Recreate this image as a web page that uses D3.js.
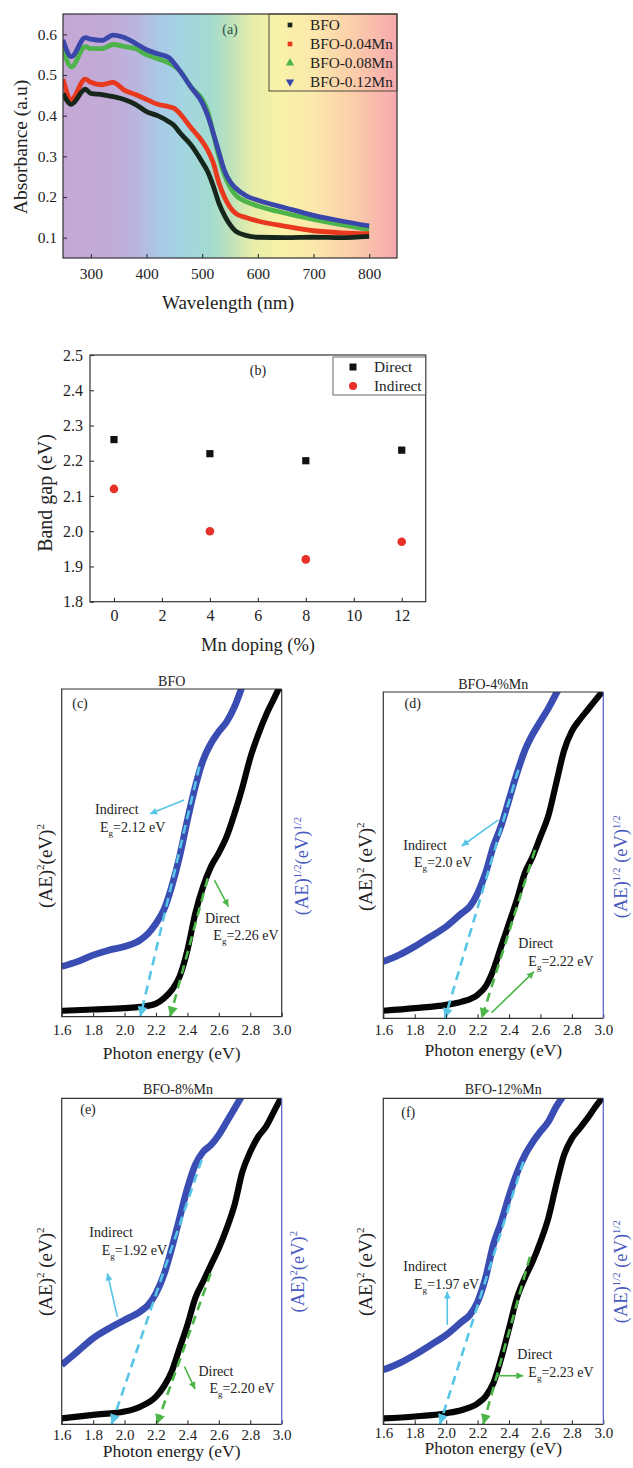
<!DOCTYPE html>
<html><head><meta charset="utf-8">
<script src="https://cdn.jsdelivr.net/npm/d3@7"></script>
<style>body{margin:0;background:#fff;} svg text{font-family:"Liberation Serif","Times New Roman",serif !important;}</style>
</head><body><script>
// ---------------- DATA ----------------
// (a) UV-vis absorbance
const wavelength = [250,265,290,300,320,340,360,380,400,420,440,450,460,480,500,510,520,530,540,550,560,580,600,650,700,750,800];
const absBFO   = [0.455,0.428,0.465,0.455,0.452,0.447,0.440,0.428,0.410,0.400,0.385,0.375,0.358,0.328,0.286,0.262,0.227,0.185,0.155,0.132,0.116,0.105,0.101,0.100,0.101,0.100,0.103];
const absMn04  = [0.490,0.440,0.490,0.482,0.476,0.482,0.463,0.452,0.440,0.428,0.422,0.418,0.405,0.370,0.337,0.315,0.284,0.235,0.200,0.175,0.160,0.149,0.141,0.128,0.117,0.112,0.110];
const absMn08  = [0.565,0.520,0.570,0.565,0.565,0.575,0.570,0.565,0.550,0.540,0.530,0.522,0.510,0.470,0.440,0.410,0.355,0.300,0.255,0.225,0.205,0.188,0.178,0.160,0.145,0.132,0.120];
const absMn12  = [0.586,0.545,0.592,0.588,0.585,0.598,0.592,0.578,0.562,0.552,0.543,0.528,0.510,0.470,0.432,0.400,0.357,0.310,0.265,0.238,0.222,0.202,0.192,0.173,0.155,0.141,0.129];
const seriesNamesA = ["BFO","BFO-0.04Mn","BFO-0.08Mn","BFO-0.12Mn"];
const xTicksA = [300,400,500,600,700,800];
const yTicksA = [0.1,0.2,0.3,0.4,0.5,0.6];

// (b) band gap vs Mn doping
const mnDoping = [0,4,8,12];
const gapDirect = [2.26,2.22,2.20,2.23];
const gapIndirect = [2.12,2.00,1.92,1.97];
const xTicksB = [0,2,4,6,8,10,12];
const yTicksB = [1.8,1.9,2.0,2.1,2.2,2.3,2.4,2.5];

// (c)-(f) Tauc plots (relative units, 0-100 of the panel height)
const energyBlack = [1.6,1.8,2.0,2.1,2.2,2.25,2.3,2.35,2.4,2.45,2.5,2.55,2.6,2.65,2.7,2.75,2.8,2.85,2.9,2.95,3.0];
const blackC = [1.8,2.2,2.6,3.0,4.0,5.6,8.1,12.2,20.3,31.5,39.7,45.8,50,55,62,70,79,86,92,97,102];
const blackD = [2.3,3.1,4.1,5.1,7.2,9.7,14.8,22,29.1,36.3,44.4,49.5,55.7,62,72,82,88,91.5,94.5,97.5,100.5];
const blackE = [1.8,2.9,3.9,5.4,8.5,11.6,16.2,23.3,30.5,38.7,43.8,48.9,54,60.1,67.3,77.5,83.6,88.2,91.3,95.9,100.5];
const blackF = [1.8,2.4,3.4,4.4,6.4,8.5,12.6,20.2,29.4,38.7,44.8,49.9,56,63.2,73.4,82.6,87.7,90.8,93.9,97.4,100.5];
const energyBlue = [1.6,1.7,1.8,1.9,2.0,2.1,2.15,2.2,2.25,2.3,2.35,2.4,2.45,2.5,2.55,2.6,2.65,2.7,2.75];
const blueC = [15.3,16.8,18.8,20.3,21.4,23.4,25.4,28.5,32.6,39.7,48.8,60,70.2,78.3,83.4,87,90,94.6,101];
const blueD = [17.4,19.4,22,25,28.1,32.2,34.2,38.3,44.4,52.6,59,67,75,82,87,91,95,99.5,104];
const blueE = [18.2,22.3,26.4,29.4,32,34.6,36.6,40.2,45.8,54,63.2,72.4,79.6,83.6,85.7,88.8,92.8,96.9,101];
const blueF = [16.7,18.7,21.3,24.3,27.4,31.5,33.5,37.6,44.8,55,62,70,77,82.5,86.5,89.8,92.8,97.4,101];
// tangent fits: [E bottom, value bottom, E top, value top]
const fitIndirect = [[2.10,0,2.476,76.3],[1.992,0,2.459,76.1],[1.918,0,2.491,81.1],[1.96,0,2.491,80.6]];
const fitDirect   = [[2.29,0,2.529,42.2],[2.226,0,2.565,51.6],[2.205,0,2.548,46.3],[2.236,0,2.533,51.4]];
const egIndirectText = ["2.12","2.0","1.92","1.97"];
const egDirectText = ["2.26","2.22","2.20","2.23"];
const panelTitles = ["BFO","BFO-4%Mn","BFO-8%Mn","BFO-12%Mn"];
const panelLetters = ["(c)","(d)","(e)","(f)"];
const xTicksT = [1.6,1.8,2.0,2.2,2.4,2.6,2.8,3.0];

// ---------------- DRAW ----------------
const FONT = "'Liberation Serif', 'Times New Roman', serif";
const svg = d3.select("body").append("svg").attr("width",633).attr("height",1468).attr("font-family",FONT);
const defs = svg.append("defs");
function marker(id,color,w,h){
  defs.append("marker").attr("id",id).attr("viewBox","0 0 10 10")
    .attr("refX",10).attr("refY",5).attr("markerWidth",w).attr("markerHeight",h)
    .attr("markerUnits","userSpaceOnUse").attr("orient","auto")
    .append("path").attr("d","M0,0L10,5L0,10Z").attr("fill",color);
}
const CYAN = "#57c5e6", GREEN = "#4cb648", BLUE = "#3a4db3";
marker("headCyan",CYAN,13,10);
marker("headGreen",GREEN,13,10);
marker("arrCyan",CYAN,8,7);
marker("arrGreen",GREEN,8,7);

function styleAxis(g,fs){
  g.attr("font-family",FONT);
  g.select(".domain").remove();
  g.selectAll(".tick line").attr("stroke","#333").attr("stroke-width",1.1);
  g.selectAll(".tick text").attr("font-size",fs).attr("fill","#222");
}
function frame(g,l,t,r,b,col){
  g.append("rect").attr("x",l).attr("y",t).attr("width",r-l).attr("height",b-t)
   .attr("fill","none").attr("stroke",col||"#333").attr("stroke-width",1.2);
}

// ===== Panel (a) =====
{
  const L=63,R=397,T=14,B=258;
  const x = d3.scaleLinear().domain([250,850]).range([L,R]);
  const y = d3.scaleLinear().domain([0.05,0.65]).range([B,T]);
  const gA = svg.append("g");
  const grad = defs.append("linearGradient").attr("id","spec").attr("x1",0).attr("x2",1).attr("y1",0).attr("y2",0);
  const stops = [[250,"#c5a7d5"],[340,"#c2abd8"],[385,"#b8b7e0"],[425,"#a9cae7"],[465,"#a3d5e2"],[515,"#a3dbd0"],[553,"#bfe3b9"],[590,"#e8eda9"],[640,"#f8f2a8"],[700,"#fbe8ac"],[765,"#fbd0aa"],[820,"#f8b7ac"],[850,"#f6a9ae"]];
  stops.forEach(s=>grad.append("stop").attr("offset",(s[0]-250)/600).attr("stop-color",s[1]));
  gA.append("rect").attr("x",L).attr("y",T).attr("width",R-L).attr("height",B-T).attr("fill","url(#spec)");
  defs.append("clipPath").attr("id","clipA").append("rect").attr("x",L).attr("y",T).attr("width",R-L).attr("height",B-T);
  const series = [absBFO,absMn04,absMn08,absMn12];
  const colors = ["#17261a","#e8391f","#4db34b","#3a47aa"];
  const line = d3.line().x((d,i)=>x(wavelength[i])).y(d=>y(d)).curve(d3.curveMonotoneX);
  const lg = gA.append("g").attr("clip-path","url(#clipA)");
  [2,3,1,0].forEach(k=>{
    lg.append("path").datum(series[k]).attr("d",line).attr("fill","none")
      .attr("stroke",colors[k]).attr("stroke-width",4.8).attr("stroke-linejoin","round");
  });
  gA.append("g").attr("transform",`translate(0,${B})`)
    .call(d3.axisBottom(x).tickValues(xTicksA).tickSize(-4).tickPadding(10).tickFormat(d3.format("d")))
    .call(g=>styleAxis(g,15.5));
  gA.append("g").attr("transform",`translate(${L},0)`)
    .call(d3.axisLeft(y).tickValues(yTicksA).tickSize(-4).tickPadding(6).tickFormat(d3.format(".1f")))
    .call(g=>styleAxis(g,15.5));
  frame(gA,L,T,R,B,"#333");
  // legend
  gA.append("rect").attr("x",269).attr("y",T).attr("width",R-269).attr("height",77).attr("fill","none").attr("stroke","#4a4a3a").attr("stroke-width",1);
  const ly = [25,44,63,82];
  const sym = [d3.symbolSquare,d3.symbolSquare,d3.symbolTriangle,d3.symbolTriangle];
  seriesNamesA.forEach((n,i)=>{
    gA.append("path").attr("d",d3.symbol().type(sym[i]).size(i<2?22:30)())
      .attr("transform",`translate(290,${ly[i]})${i===3?" rotate(180)":""}`).attr("fill",colors[i]);
    gA.append("text").attr("x",310).attr("y",ly[i]).attr("dy","0.35em").attr("font-size",15.3).attr("fill","#222").text(n);
  });
  gA.append("text").attr("x",230).attr("y",29).attr("dy","0.35em").attr("text-anchor","middle").attr("font-size",14).attr("fill","#2e4f4f").text("(a)");
  gA.append("text").attr("x",228).attr("y",302).attr("dy","0.35em").attr("text-anchor","middle").attr("font-size",19).attr("fill","#222").text("Wavelength (nm)");
  gA.append("text").attr("transform","translate(20,147) rotate(-90)").attr("dy","0.35em").attr("text-anchor","middle").attr("font-size",19.5).attr("fill","#222").text("Absorbance (a.u)");
}

// ===== Panel (b) =====
{
  const L=90,R=425.7,T=355,B=601.7;
  const x = d3.scaleLinear().domain([-1,13]).range([L,R]);
  const y = d3.scaleLinear().domain([1.8,2.5]).range([B,T]);
  const gB = svg.append("g");
  gB.append("g").attr("transform",`translate(0,${B})`)
    .call(d3.axisBottom(x).tickValues(xTicksB).tickSize(-4).tickPadding(7.5).tickFormat(d3.format("d")))
    .call(g=>styleAxis(g,16));
  gB.append("g").attr("transform",`translate(${L},0)`)
    .call(d3.axisLeft(y).tickValues(yTicksB).tickSize(-4).tickPadding(7).tickFormat(d3.format(".1f")))
    .call(g=>styleAxis(g,16));
  frame(gB,L,T,R,B,"#333");
  gB.selectAll(".sq").data(mnDoping).enter().append("rect")
    .attr("x",(d)=>x(d)-3.6).attr("y",(d,i)=>y(gapDirect[i])-3.6).attr("width",7.2).attr("height",7.2).attr("fill","#111");
  gB.selectAll(".ci").data(mnDoping).enter().append("circle")
    .attr("cx",d=>x(d)).attr("cy",(d,i)=>y(gapIndirect[i])).attr("r",4.3).attr("fill","#e8302a");
  gB.append("rect").attr("x",333).attr("y",357).attr("width",R-333).attr("height",38).attr("fill","none").attr("stroke","#666").attr("stroke-width",1);
  gB.append("rect").attr("x",353-3.5).attr("y",367-3.5).attr("width",7).attr("height",7).attr("fill","#111");
  gB.append("circle").attr("cx",353).attr("cy",386).attr("r",4).attr("fill","#e8302a");
  gB.append("text").attr("x",374).attr("y",367).attr("dy","0.35em").attr("font-size",15.3).attr("fill","#222").text("Direct");
  gB.append("text").attr("x",374).attr("y",386).attr("dy","0.35em").attr("font-size",15.3).attr("fill","#222").text("Indirect");
  gB.append("text").attr("x",258).attr("y",370).attr("dy","0.35em").attr("text-anchor","middle").attr("font-size",14).attr("fill","#222").text("(b)");
  gB.append("text").attr("x",258).attr("y",645).attr("dy","0.35em").attr("text-anchor","middle").attr("font-size",18.5).attr("fill","#222").text("Mn doping (%)");
  gB.append("text").attr("transform","translate(45,493) rotate(-90)").attr("dy","0.35em").attr("text-anchor","middle").attr("font-size",20).attr("fill","#222").text("Band gap (eV)");
}

// ===== Panels (c)-(f) =====
function supLabel(g,x,y,parts,color,fs){
  const t = g.append("text").attr("transform",`translate(${x},${y}) rotate(-90)`).attr("dy","0.35em")
    .attr("text-anchor","middle").attr("font-size",fs).attr("fill",color);
  let up=false;
  parts.forEach(p=>{
    const sup = p[1];
    const ts = t.append("tspan").text(p[0]);
    if(sup){ ts.attr("font-size",fs*0.58).attr("dy",-fs*0.38); up=true; }
    else if(up){ ts.attr("dy",fs*0.38); up=false; }
  });
}
const SQ = [["(AE)",0],["2",1],["(eV)",0],["2",1]];
const SQs = [["(AE)",0],["2",1],[" (eV)",0],["2",1]];
const HALF = [["(AE)",0],["1/2",1],["(eV)",0],["1/2",1]];
const HALFs = [["(AE)",0],["1/2",1],[" (eV)",0],["1/2",1]];

const panels = [
  {L:61.7,T:689,R:281.7,B:1016.7, black:blackC, blue:blueC, rightCol:"#333", rightLab:HALF, leftLab:SQ,
   title:[171.7,680.7], letter:[80,702.7], leftPos:[45,866], rightPos:[301.7,866], xTitleY:1053, pad:7.3,
   ann:{ind:[1.812,63.4], indEg:[1.844,57.8], indArr:[2.379,66.1,2.162,61.9], dir:[2.512,30.2], dirEg:[2.565,24.9], dirArr:[2.572,41.7,2.661,33.6]}},
  {L:383.3,T:692,R:603.3,B:1018.3, black:blackD, blue:blueD, rightCol:"#4f5fc2", rightLab:HALFs, leftLab:SQs,
   title:[493.3,684], letter:[412.7,703.3], leftPos:[365,866.7], rightPos:[621,866.7], xTitleY:1050, pad:6.3,
   ann:{ind:[1.727,53.1], indEg:[1.795,47.8], indArr:[2.332,60.8,2.099,52.8], dir:[2.459,23.0], dirEg:[2.523,17.6], dirArr:[2.289,1.7,2.559,14.3]}},
  {L:61.7,T:1098.3,R:281.7,B:1424.3, black:blackE, blue:blueE, rightCol:"#4f5fc2", rightLab:SQ, leftLab:SQs,
   title:[178,1089], letter:[88,1109], leftPos:[45,1271.7], rightPos:[297.7,1271.7], xTitleY:1451, pad:5.3,
   ann:{ind:[1.776,59.1], indEg:[1.855,53.5], indArr:[1.954,33.0,1.891,46.3], dir:[2.47,16.4], dirEg:[2.54,11.0], dirArr:[2.381,17.7,2.449,10.8]}},
  {L:383.3,T:1098.3,R:603.3,B:1424.3, black:blackF, blue:blueF, rightCol:"#4f5fc2", rightLab:HALFs, leftLab:SQs,
   title:[503.3,1089], letter:[408.3,1111.7], leftPos:[365,1271.7], rightPos:[621,1271.7], xTitleY:1448, pad:2.8,
   ann:{ind:[1.727,48.4], indEg:[1.795,42.9], indArr:[2.007,30.5,2.007,40.7], dir:[2.453,21.5], dirEg:[2.523,16.0], dirArr:[2.321,14.9,2.491,14.9]}}
];

panels.forEach((p,k)=>{
  const g = svg.append("g");
  const x = d3.scaleLinear().domain([1.6,3.0]).range([p.L,p.R]);
  const y = d3.scaleLinear().domain([0,100]).range([p.B,p.T]);
  const cid = "clipT"+k;
  defs.append("clipPath").attr("id",cid).append("rect").attr("x",p.L).attr("y",p.T).attr("width",p.R-p.L).attr("height",p.B-p.T);
  const cg = g.append("g").attr("clip-path",`url(#${cid})`);
  const lineBlue = d3.line().x((d,i)=>x(energyBlue[i])).y(d=>y(d)).curve(d3.curveMonotoneX);
  const lineBlack = d3.line().x((d,i)=>x(energyBlack[i])).y(d=>y(d)).curve(d3.curveMonotoneX);
  cg.append("path").datum(p.blue).attr("d",lineBlue).attr("fill","none").attr("stroke",BLUE).attr("stroke-width",6.8);
  cg.append("path").datum(p.black).attr("d",lineBlack).attr("fill","none").attr("stroke","#050505").attr("stroke-width",6.2);
  // tangent fits
  const fi = fitIndirect[k], fd = fitDirect[k];
  g.append("line").attr("x1",x(fi[2])).attr("y1",y(fi[3])).attr("x2",x(fi[0])).attr("y2",y(fi[1]))
    .attr("stroke",CYAN).attr("stroke-width",2.6).attr("stroke-dasharray","9,6").attr("marker-end","url(#headCyan)");
  g.append("line").attr("x1",x(fd[2])).attr("y1",y(fd[3])).attr("x2",x(fd[0])).attr("y2",y(fd[1]))
    .attr("stroke",GREEN).attr("stroke-width",2.6).attr("stroke-dasharray","9,6").attr("marker-end","url(#headGreen)");
  // axes
  g.append("g").attr("transform",`translate(0,${p.B})`)
    .call(d3.axisBottom(x).tickValues(xTicksT).tickSize(-4).tickPadding(p.pad).tickFormat(d3.format(".1f")))
    .call(gg=>styleAxis(gg,15));
  g.append("path").attr("d",`M${p.R},${p.T}L${p.L},${p.T}L${p.L},${p.B}L${p.R},${p.B}`).attr("fill","none").attr("stroke","#333").attr("stroke-width",1.2);
  g.append("line").attr("x1",p.R).attr("x2",p.R).attr("y1",p.T).attr("y2",p.B).attr("stroke",p.rightCol).attr("stroke-width",1.2);
  // annotations
  const a = p.ann;
  g.append("text").attr("x",x(a.ind[0])).attr("y",y(a.ind[1])).attr("dy","0.35em").attr("font-size",14).attr("fill","#222").text("Indirect");
  const t1 = g.append("text").attr("x",x(a.indEg[0])).attr("y",y(a.indEg[1])).attr("dy","0.35em").attr("font-size",14).attr("fill","#222");
  t1.append("tspan").text("E"); t1.append("tspan").attr("font-size",9).attr("dy",4).text("g");
  t1.append("tspan").attr("dy",-4).text("=" + egIndirectText[k] + " eV");
  g.append("line").attr("x1",x(a.indArr[0])).attr("y1",y(a.indArr[1])).attr("x2",x(a.indArr[2])).attr("y2",y(a.indArr[3]))
    .attr("stroke",CYAN).attr("stroke-width",1.6).attr("marker-end","url(#arrCyan)");
  g.append("text").attr("x",x(a.dir[0])).attr("y",y(a.dir[1])).attr("dy","0.35em").attr("font-size",14).attr("fill","#222").text("Direct");
  const t2 = g.append("text").attr("x",x(a.dirEg[0])).attr("y",y(a.dirEg[1])).attr("dy","0.35em").attr("font-size",14).attr("fill","#222");
  t2.append("tspan").text("E"); t2.append("tspan").attr("font-size",9).attr("dy",4).text("g");
  t2.append("tspan").attr("dy",-4).text("=" + egDirectText[k] + " eV");
  g.append("line").attr("x1",x(a.dirArr[0])).attr("y1",y(a.dirArr[1])).attr("x2",x(a.dirArr[2])).attr("y2",y(a.dirArr[3]))
    .attr("stroke",GREEN).attr("stroke-width",1.6).attr("marker-end","url(#arrGreen)");
  // titles and labels
  g.append("text").attr("x",p.title[0]).attr("y",p.title[1]).attr("dy","0.35em").attr("text-anchor","middle").attr("font-size",14).attr("fill","#222").text(panelTitles[k]);
  g.append("text").attr("x",p.letter[0]).attr("y",p.letter[1]).attr("dy","0.35em").attr("text-anchor","middle").attr("font-size",14).attr("fill","#222").text(panelLetters[k]);
  g.append("text").attr("x",(p.L+p.R)/2).attr("y",p.xTitleY).attr("dy","0.35em").attr("text-anchor","middle").attr("font-size",17.5).attr("fill","#222").text("Photon energy (eV)");
  supLabel(g,p.leftPos[0],p.leftPos[1],p.leftLab,"#222",19);
  supLabel(g,p.rightPos[0],p.rightPos[1],p.rightLab,"#4a5bc0",18.5);
});
svg.selectAll("text").style("font-family",FONT);
</script></body></html>
